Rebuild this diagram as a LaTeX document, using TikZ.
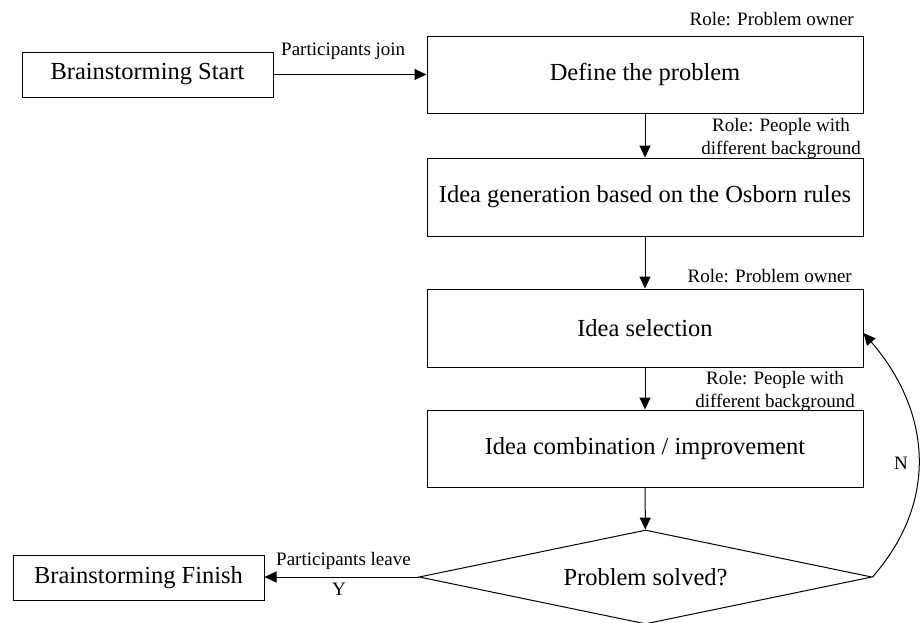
\documentclass[tikz,border=0pt]{standalone}
\usepackage{fontspec}
\setmainfont{Liberation Serif}
\usetikzlibrary{shapes.geometric,arrows.meta}
\begin{document}
\begin{tikzpicture}[x=1pt,y=-1pt,
  box/.style={draw, line width=1pt, inner sep=0pt, font=\fontsize{24.5}{28}\selectfont},
  lbl/.style={inner sep=0pt, font=\fontsize{19}{22.5}\selectfont},
  arr/.style={line width=1pt, -{Triangle[length=12pt,width=11pt]}}]
\useasboundingbox (0,0) rectangle (921,622);
\node[box, minimum width=251pt, minimum height=45pt] (start) at (147.5,74.5) {Brainstorming Start};
\node[box, minimum width=436pt, minimum height=77pt] (define) at (645,74.5) {Define the problem};
\node[box, minimum width=436pt, minimum height=78pt] (gen) at (645,197) {Idea generation based on the Osborn rules};
\node[box, minimum width=436pt, minimum height=78pt] (sel) at (645,328) {Idea selection};
\node[box, minimum width=436pt, minimum height=77pt] (comb) at (645,448.5) {Idea combination / improvement};
\node[box, diamond, aspect=4.8, minimum width=453pt, minimum height=94pt] (dia) at (645.5,577) {Problem solved?};
\node[box, minimum width=251pt, minimum height=45pt] (finish) at (138.5,577.5) {Brainstorming Finish};

\node[lbl, anchor=base east] (r1) at (854,25) {Role: Problem owner};
\node[lbl, anchor=base west] (pj) at (281,55) {Participants join};
\node[lbl, align=center, anchor=base] (r2) at (781,154) {Role: People with\\different background};
\node[lbl, anchor=base east] (r3) at (852,282) {Role: Problem owner};
\node[lbl, align=center, anchor=base] (r4) at (775,407) {Role: People with\\different background};
\node[lbl, anchor=base west] (pl) at (276,565) {Participants leave};
\node[lbl, anchor=base] (y) at (339,595) {Y};
\node[lbl, anchor=base] (n) at (901,469) {N};

\draw[arr] (start) -- (define);
\draw[arr] (define) -- (gen);
\draw[arr] (gen) -- (sel);
\draw[arr] (sel) -- (comb);
\draw[arr] (comb) -- (dia);
\draw[arr] (dia.west) -- (finish.east |- dia.west);
\draw[arr] (dia.east) .. controls (940,500) and (930,410) .. ([yshift=-5pt]sel.east);
\end{tikzpicture}
\end{document}
